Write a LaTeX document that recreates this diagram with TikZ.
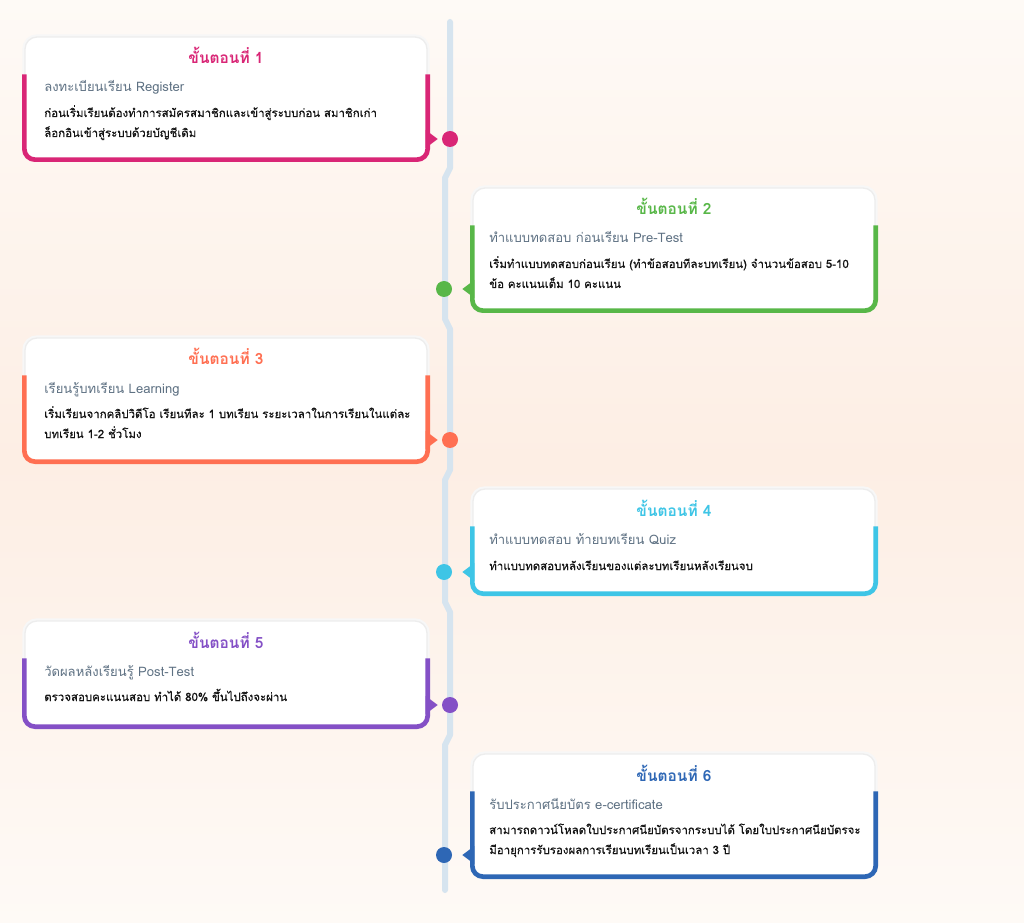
\documentclass[tikz,border=0pt]{standalone}
\usepackage{fontspec}
\setmainfont[Script=Thai]{Loma}
\newfontfamily\bodyfont[Script=Thai, FakeBold=0.5]{Loma}
\usetikzlibrary{calc}
\definecolor{bgtop}{HTML}{FEFAF6}
\definecolor{bgmid}{HTML}{FDEEE4}
\definecolor{linecol}{HTML}{D6E4EF}
\definecolor{subgray}{HTML}{5E7183}
\definecolor{bodytext}{HTML}{141414}
\definecolor{stepone}{HTML}{D92676}
\definecolor{steptwo}{HTML}{58B748}
\definecolor{stepthree}{HTML}{FF6F52}
\definecolor{stepfour}{HTML}{3EC5E6}
\definecolor{stepfive}{HTML}{8450C6}
\definecolor{stepsix}{HTML}{2E67B5}
\begin{document}
\begin{tikzpicture}[x=0.75pt, y=-0.75pt,
  card/.style={fill=white, rounded corners=9pt, minimum width=402*0.75pt, inner sep=0pt,
    draw=black!7, line width=1pt, preaction={draw=black!3, line width=4pt}},
  rim/.style={line width=3.5pt, rounded corners=8pt},
  dot/.style={circle, minimum size=12pt, inner sep=0pt},
  heading/.style={font=\fontsize{11.6}{14}\selectfont\bfseries, anchor=base, inner sep=0pt},
  subline/.style={font=\fontsize{9.8}{12}\selectfont, text=subgray, anchor=base west, inner sep=0pt},
  bodyline/.style={font=\bodyfont\fontsize{8.6}{12}\selectfont, text=bodytext, anchor=base west, inner sep=0pt}]
  \useasboundingbox (0,0) rectangle (1024,923);
  \shade[top color=bgtop, bottom color=bgtop, middle color=bgmid] (0,0) rectangle (1024,923);

  % timeline
  \draw[linecol, line width=4.5pt, line cap=round, line join=round]
    (450,22) -- (450,168) -- (445,178) -- (445,319) -- (450,329) -- (450,470) -- (445,480)
    -- (445,602) -- (450,612) -- (450,735) -- (445,745) -- (445,890);

  \node[dot, fill=stepone] (d1) at (450,139) {};
  \node[dot, fill=steptwo] (d2) at (444,289) {};
  \node[dot, fill=stepthree] (d3) at (450,440) {};
  \node[dot, fill=stepfour] (d4) at (444,572) {};
  \node[dot, fill=stepfive] (d5) at (450,705) {};
  \node[dot, fill=stepsix] (d6) at (444,855) {};

  % step 1
  \node[card, minimum height=122*0.75pt] (c1) at (226,98) {};
  \draw[rim, stepone] ($(c1.north west)+(0,38)$) -- (c1.south west) -- (c1.south east) -- ($(c1.north east)+(0,38)$);
  \fill[stepone] ($(c1.east |- d1)+(-2,-9)$) -- ($(c1.east |- d1)+(10,0)$) -- ($(c1.east |- d1)+(-2,9)$) -- cycle;
  \node[heading, text=stepone] (t1) at (226,64) {ขั้นตอนที่ 1};
  \node[subline] (s1) at (44,92) {ลงทะเบียนเรียน Register};
  \node[bodyline] (b1) at (44,117) {ก่อนเริ่มเรียนต้องทำการสมัครสมาชิกและเข้าสู่ระบบก่อน สมาชิกเก่า};
  \node[bodyline] (b1x) at (44,137) {ล็อกอินเข้าสู่ระบบด้วยบัญชีเดิม};

  % step 2
  \node[card, minimum height=122*0.75pt] (c2) at (674,249) {};
  \draw[rim, steptwo] ($(c2.north west)+(0,38)$) -- (c2.south west) -- (c2.south east) -- ($(c2.north east)+(0,38)$);
  \fill[steptwo] ($(c2.west |- d2)+(2,-9)$) -- ($(c2.west |- d2)+(-10,0)$) -- ($(c2.west |- d2)+(2,9)$) -- cycle;
  \node[heading, text=steptwo] (t2) at (674,215) {ขั้นตอนที่ 2};
  \node[subline] (s2) at (489,243) {ทำแบบทดสอบ ก่อนเรียน Pre-Test};
  \node[bodyline] (b2) at (489,268) {เริ่มทำแบบทดสอบก่อนเรียน (ทำข้อสอบทีละบทเรียน) จำนวนข้อสอบ 5-10};
  \node[bodyline] (b2x) at (489,288) {ข้อ คะแนนเต็ม 10 คะแนน};

  % step 3
  \node[card, minimum height=123*0.75pt] (c3) at (226,399.5) {};
  \draw[rim, stepthree] ($(c3.north west)+(0,38)$) -- (c3.south west) -- (c3.south east) -- ($(c3.north east)+(0,38)$);
  \fill[stepthree] ($(c3.east |- d3)+(-2,-9)$) -- ($(c3.east |- d3)+(10,0)$) -- ($(c3.east |- d3)+(-2,9)$) -- cycle;
  \node[heading, text=stepthree] (t3) at (226,365) {ขั้นตอนที่ 3};
  \node[subline] (s3) at (44,393) {เรียนรู้บทเรียน Learning};
  \node[bodyline] (b3) at (44,418) {เริ่มเรียนจากคลิปวิดีโอ เรียนทีละ 1 บทเรียน ระยะเวลาในการเรียนในแต่ละ};
  \node[bodyline] (b3x) at (44,438) {บทเรียน 1-2 ชั่วโมง};

  % step 4
  \node[card, minimum height=104*0.75pt] (c4) at (674,541) {};
  \draw[rim, stepfour] ($(c4.north west)+(0,38)$) -- (c4.south west) -- (c4.south east) -- ($(c4.north east)+(0,38)$);
  \fill[stepfour] ($(c4.west |- d4)+(2,-9)$) -- ($(c4.west |- d4)+(-10,0)$) -- ($(c4.west |- d4)+(2,9)$) -- cycle;
  \node[heading, text=stepfour] (t4) at (674,516) {ขั้นตอนที่ 4};
  \node[subline] (s4) at (489,544) {ทำแบบทดสอบ ท้ายบทเรียน Quiz};
  \node[bodyline] (b4) at (489,570) {ทำแบบทดสอบหลังเรียนของแต่ละบทเรียนหลังเรียนจบ};

  % step 5
  \node[card, minimum height=105*0.75pt] (c5) at (226,673.5) {};
  \draw[rim, stepfive] ($(c5.north west)+(0,38)$) -- (c5.south west) -- (c5.south east) -- ($(c5.north east)+(0,38)$);
  \fill[stepfive] ($(c5.east |- d5)+(-2,-9)$) -- ($(c5.east |- d5)+(10,0)$) -- ($(c5.east |- d5)+(-2,9)$) -- cycle;
  \node[heading, text=stepfive] (t5) at (226,648) {ขั้นตอนที่ 5};
  \node[subline] (s5) at (44,676) {วัดผลหลังเรียนรู้ Post-Test};
  \node[bodyline] (b5) at (44,701) {ตรวจสอบคะแนนสอบ ทำได้ 80\% ขึ้นไปถึงจะผ่าน};

  % step 6
  \node[card, minimum height=122*0.75pt] (c6) at (674,815) {};
  \draw[rim, stepsix] ($(c6.north west)+(0,38)$) -- (c6.south west) -- (c6.south east) -- ($(c6.north east)+(0,38)$);
  \fill[stepsix] ($(c6.west |- d6)+(2,-9)$) -- ($(c6.west |- d6)+(-10,0)$) -- ($(c6.west |- d6)+(2,9)$) -- cycle;
  \node[heading, text=stepsix] (t6) at (674,781) {ขั้นตอนที่ 6};
  \node[subline] (s6) at (489,809) {รับประกาศนียบัตร e-certificate};
  \node[bodyline] (b6) at (489,834) {สามารถดาวน์โหลดใบประกาศนียบัตรจากระบบได้ โดยใบประกาศนียบัตรจะ};
  \node[bodyline] (b6x) at (489,854) {มีอายุการรับรองผลการเรียนบทเรียนเป็นเวลา 3 ปี};
\end{tikzpicture}
\end{document}
